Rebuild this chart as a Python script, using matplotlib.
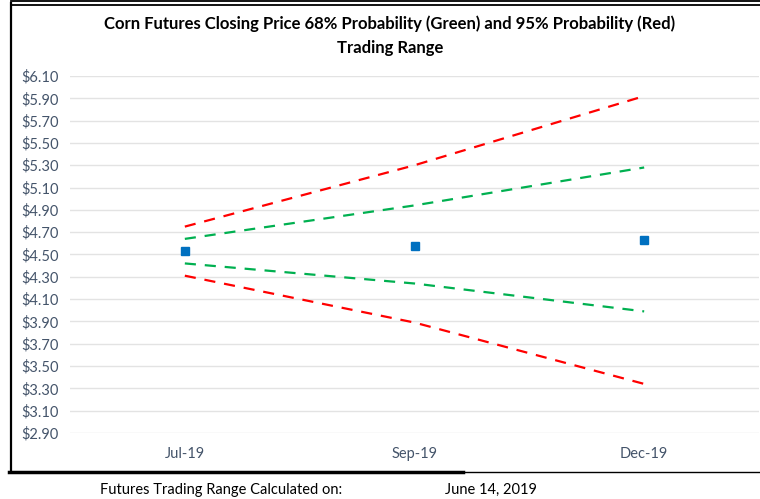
import matplotlib.pyplot as plt
from matplotlib.lines import Line2D

plt.rcParams['font.family'] = ['Lato', 'DejaVu Sans']

months = ['Jul-19', 'Sep-19', 'Dec-19']
close_price = [4.53, 4.58, 4.63]
upper_95 = [4.75, 5.30, 5.92]
upper_68 = [4.64, 4.94, 5.28]
lower_68 = [4.42, 4.24, 3.99]
lower_95 = [4.31, 3.89, 3.34]
yticks = [2.90 + 0.20 * i for i in range(17)]

fig = plt.figure(figsize=(7.6, 4.99), dpi=100)
ax = fig.add_axes([70 / 760, 1 - 433 / 499, 689 / 760, 357 / 499])

x = list(range(len(months)))
ax.plot(x, upper_95, color='#FF0000', ls=(0, (5, 4)), lw=1.6)
ax.plot(x, lower_95, color='#FF0000', ls=(0, (5, 4)), lw=1.6)
ax.plot(x, upper_68, color='#00B050', ls=(0, (5, 4)), lw=1.6)
ax.plot(x, lower_68, color='#00B050', ls=(0, (5, 4)), lw=1.6)
ax.plot(x, close_price, ls='none', marker='s', ms=6, color='#0070C0')

ax.set_xlim(-0.5, 2.5)
ax.set_ylim(2.90, 6.10)
ax.set_yticks(yticks)
ax.set_yticklabels(['${:.2f}'.format(v) for v in yticks])
ax.set_xticks(x)
ax.set_xticklabels(months)
ax.grid(axis='y', color='#E3E3E3', lw=1)
ax.set_axisbelow(True)
for s in ax.spines.values():
    s.set_visible(False)
ax.tick_params(length=0, labelsize=10.5, colors='#44546A')
ax.tick_params(axis='x', pad=10)
ax.tick_params(axis='y', pad=8)

fig.text(0.513, 1 - 24 / 499, 'Corn Futures Closing Price 68% Probability (Green) and 95% Probability (Red)',
         ha='center', va='center', fontsize=12, fontweight='bold')
fig.text(0.513, 1 - 48 / 499, 'Trading Range', ha='center', va='center', fontsize=12, fontweight='bold')

# outer frame of the chart box
fig.add_artist(Line2D([11 / 760, 11 / 760], [1 - 3 / 499, 1 - 472 / 499], color='black', lw=1.6))
fig.add_artist(Line2D([11 / 760, 1], [1 - 1 / 499, 1 - 1 / 499], color='black', lw=1.3))
fig.add_artist(Line2D([11 / 760, 1], [1 - 4.5 / 499, 1 - 4.5 / 499], color='black', lw=1.3))
fig.add_artist(Line2D([9 / 760, 463 / 760], [1 - 472 / 499, 1 - 472 / 499], color='black', lw=2.5))
fig.add_artist(Line2D([463 / 760, 1], [1 - 472 / 499, 1 - 472 / 499], color='black', lw=1))

fig.text(100 / 760, 1 - 490 / 499, 'Futures Trading Range Calculated on:', ha='left', va='center', fontsize=10.5)
fig.text(445 / 760, 1 - 490 / 499, 'June 14, 2019', ha='left', va='center', fontsize=10.5)

fig.savefig('out.png', dpi=100)
